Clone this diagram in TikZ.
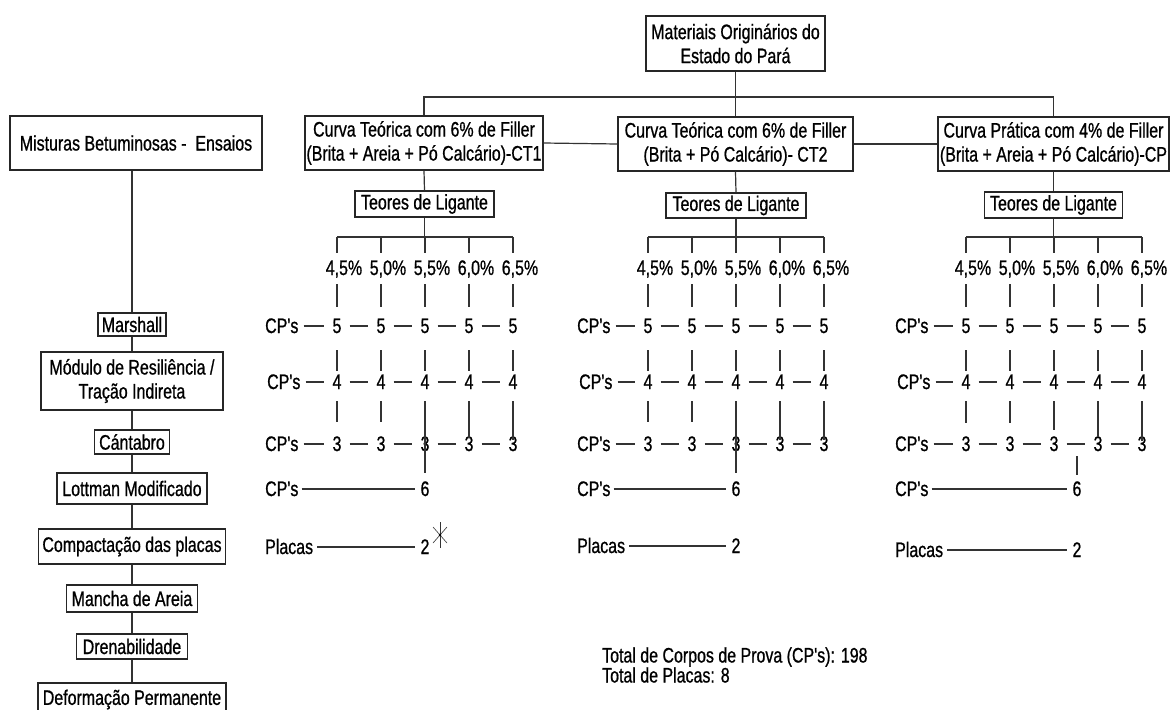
\documentclass[tikz,border=0pt]{standalone}
\usepackage{fontspec}
\newfontfamily\arialn{Liberation Sans}[FakeStretch=0.76,FakeBold=0.8]
% #1 prefix, #2 x of first column, #3 left x of row labels, #4 x of the 6 and the 2, #5 y of Placas row, #6 Teores node
\newcommand\gridcol[6]{%
  \coordinate (#1bus) at ({#2+88},237);
  \foreach \i/\pa/\pb in {1/4/5,2/5/0,3/5/5,4/6/0,5/6/5}{%
    \node[num] (#1p\i) at ({#2+44*(\i-1)+7},268) {\pa,\pb\%};
    \node[num] (#1r5\i) at ({#2+44*(\i-1)},326) {5};
    \node[num] (#1r4\i) at ({#2+44*(\i-1)},382) {4};
    \node[num] (#1r3\i) at ({#2+44*(\i-1)},444) {3};
  }
  \node[lab] (#1c5) at (#3,326) {CP's};
  \node[lab] (#1c4) at ({#3+2},382) {CP's};
  \node[lab] (#1c3) at (#3,444) {CP's};
  \node[lab] (#1c6) at (#3,489) {CP's};
  \node[lab] (#1pl) at (#3,#5) {Placas};
  \node[num] (#1six) at (#4,489) {6};
  \node[num] (#1two) at (#4,#5) {2};
  \draw[ln] (#6.south) -- (#6.south |- #1bus);
  \draw[ln] (#1r51 |- #1bus) -- (#1r55 |- #1bus);
  \foreach \i in {1,...,5}{%
    \draw[ln, shorten >=8pt] (#1r5\i |- #1bus) -- (#1r5\i |- #1p\i.north);
    \draw[ln, shorten <=9pt, shorten >=12pt] (#1r5\i |- #1p\i.south) -- (#1r5\i.north);
    \draw[ln, shorten <=17pt, shorten >=4pt] (#1r5\i.south) -- (#1r4\i.north);
  }
  \foreach \r in {5,4,3}{%
    \draw[ln, shorten <=5pt, shorten >=8pt] (#1c\r) -- (#1r\r1);
    \foreach \i/\j in {1/2,2/3,3/4,4/5}{%
      \draw[ln, shorten <=8pt, shorten >=8pt] (#1r\r\i) -- (#1r\r\j);
    }
  }
  \draw[ln, shorten <=3pt, shorten >=5pt] (#1c6) -- (#1six);
  \draw[ln, shorten <=4pt, shorten >=5pt] (#1pl) -- (#1two);
}
\begin{document}
\begin{tikzpicture}[x=1pt,y=-1pt,
  every node/.style={font=\arialn\fontsize{21}{24}\selectfont, inner sep=0pt, text=black},
  box/.style={draw=black!85, line width=1.2pt, align=center},
  ln/.style={line width=1.2pt, draw=black!80},
  num/.style={text height=14pt, text depth=0pt},
  lab/.style={anchor=west, text height=14pt, text depth=0pt}]
\fill[white] (0,0) rectangle (1171,710);
\useasboundingbox (0,0) rectangle (1171,710);
\clip (0,0) rectangle (1171,710);

% top level
\node[box, minimum width=179pt, minimum height=55pt] (top) at (735.5,43.5)
  {Materiais Originários do\\Estado do Pará};
\node[box, minimum width=238pt, minimum height=54pt] (ct1) at (424,143)
  {Curva Teórica com 6\% de Filler\\(Brita + Areia + Pó Calcário)-CT1};
\node[box, minimum width=235pt, minimum height=54pt] (ct2) at (735.5,144)
  {Curva Teórica com 6\% de Filler\\(Brita + Pó Calcário)- CT2};
\node[box, minimum width=231pt, minimum height=54pt] (cp) at (1053.5,144)
  {Curva Prática com 4\% de Filler\\(Brita + Areia + Pó Calcário)-CP};
\node[box, minimum width=139pt, minimum height=26pt] (T1) at (424.5,204) {Teores de Ligante};
\node[box, minimum width=140pt, minimum height=25pt] (T2) at (736,205.5) {Teores de Ligante};
\node[box, minimum width=138pt, minimum height=26pt] (T3) at (1053.5,205) {Teores de Ligante};

\coordinate (tbus) at (0,97);
\draw[ln] (top.south) -- (ct2.north);
\draw[ln] (ct1.north) |- (tbus -| cp.north) -- (cp.north);
\draw[ln] (ct1.east) -- (ct2.west);
\draw[ln] (ct2.east) -- (cp.west);
\draw[ln] (ct1.south) -- (T1.north);
\draw[ln] (ct2.south) -- (T2.north);
\draw[ln] (cp.south) -- (T3.north);

% left column
\node[box, minimum width=252pt, minimum height=54pt] (mist) at (136,143) {Misturas Betuminosas - \ Ensaios};
\node[box, minimum width=68pt, minimum height=23pt] (mar) at (132,324.5) {Marshall};
\node[box, minimum width=182pt, minimum height=58pt] (mod) at (132,381) {Módulo de Resiliência /\\Tração Indireta};
\node[box, minimum width=75pt, minimum height=24pt] (can) at (132,442) {Cántabro};
\node[box, minimum width=150pt, minimum height=31pt] (lot) at (132,488.5) {Lottman Modificado};
\node[box, minimum width=187pt, minimum height=35pt] (com) at (132,546.5) {Compactação das placas};
\node[box, minimum width=131pt, minimum height=27pt] (man) at (132,598.5) {Mancha de Areia};
\node[box, minimum width=111pt, minimum height=25pt] (dre) at (132,646.5) {Drenabilidade};
\node[box, minimum width=188pt, minimum height=33pt] (def) at (132,699.5) {Deformação Permanente};
\draw[ln] (mist.south -| mar.north) -- (mar.north);
\draw[ln] (mar) -- (mod);
\draw[ln] (mod) -- (can);
\draw[ln] (can) -- (lot);
\draw[ln] (lot) -- (com);
\draw[ln] (com) -- (man);
\draw[ln] (man) -- (dre);
\draw[ln] (dre) -- (def);

% grids
\gridcol{A}{337}{265}{425}{547}{T1}
\gridcol{B}{648}{577}{736}{546}{T2}
\gridcol{C}{966}{895}{1077}{550}{T3}

% verticals between rows 4 and 3
\draw[ln, shorten <=12pt, shorten >=15pt] (Ar41.south) -- (Ar31.north);
\draw[ln, shorten <=12pt, shorten >=15pt] (Ar42.south) -- (Ar32.north);
\draw[ln, shorten <=12pt, shorten >=9pt] (Ar43.south) -- (Asix.north);
\draw[ln, shorten <=12pt, shorten >=-1pt] (Ar44.south) -- (Ar34.north);
\draw[ln, shorten <=12pt, shorten >=-3pt] (Ar45.south) -- (Ar35.north);

\draw[ln, shorten <=12pt, shorten >=15pt] (Br41.south) -- (Br31.north);
\draw[ln, shorten <=12pt, shorten >=15pt] (Br42.south) -- (Br32.north);
\draw[ln, shorten <=12pt, shorten >=9pt] (Br43.south) -- (Bsix.north);
\draw[ln, shorten <=12pt, shorten >=-3pt] (Br44.south) -- (Br34.north);
\draw[ln, shorten <=12pt, shorten >=-3pt] (Br45.south) -- (Br35.north);

\draw[ln, shorten <=12pt, shorten >=14pt] (Cr41.south) -- (Cr31.north);
\draw[ln, shorten <=12pt, shorten >=14pt] (Cr42.south) -- (Cr32.north);
\draw[ln, shorten <=12pt, shorten >=7pt] (Cr43.south) -- (Cr33.north);
\draw[ln, shorten <=12pt, shorten >=0pt] (Cr44.south) -- (Cr34.north);
\draw[ln, shorten <=12pt, shorten >=-4pt] (Cr45.south) -- (Cr35.north);
\draw[ln, shorten <=5pt, shorten >=7pt] (Csix |- Cr33.south) -- (Csix.north);

% asterisk next to the 2 of CT1
\path (Atwo) ++(15,-12) coordinate (ast);
\draw[line width=0.6pt, black!80] (ast) ++(0,-13) -- ++(0,26);
\draw[line width=0.6pt, black!80] (ast) ++(-7,-8) -- ++(14,16);
\draw[line width=0.6pt, black!80] (ast) ++(-7,8) -- ++(14,-16);
\fill[black] (ast) circle (1.3pt);

% totals
\node[anchor=west, align=left, font=\arialn\fontsize{21}{20}\selectfont] (tot) at (602,665)
  {Total de Corpos de Prova (CP's): 198\\Total de Placas: 8};
\end{tikzpicture}
\end{document}
